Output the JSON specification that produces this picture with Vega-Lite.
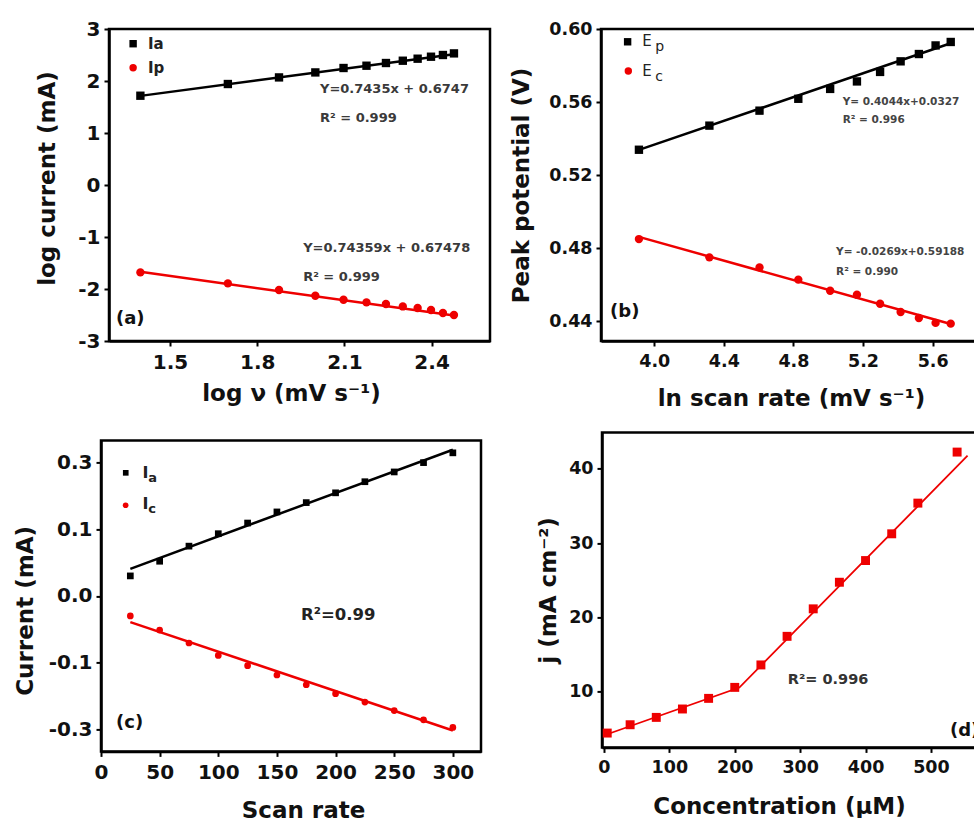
{
  "$schema": "https://vega.github.io/schema/vega-lite/v6.json",
  "background": "white",
  "autosize": {"type": "pad"},
  "padding": {"left": 13, "top": 17, "right": 0, "bottom": 0},
  "config": {
    "font": "DejaVu Sans",
    "view": {"stroke": "black", "strokeWidth": 2.5},
    "axis": {"grid": false, "domainColor": "black", "domainWidth": 2.5, "tickColor": "black", "tickWidth": 2, "tickSize": 5, "labelFont": "DejaVu Sans", "labelFontWeight": "bold", "labelColor": "#111111", "titleFont": "DejaVu Sans", "titleFontWeight": "bold", "titleColor": "#111111", "titleFontSize": 23, "labelFlush": false, "labelOverlap": false},
    "axisX": {"labelPadding": 6, "minExtent": 30, "maxExtent": 30},
    "axisY": {"labelPadding": 4, "minExtent": 40, "maxExtent": 40}
  },
  "datasets": {
    "a_pts": [
      {"s": "Ia", "x": 1.398, "y": 1.717}, {"s": "Ia", "x": 1.699, "y": 1.942}, {"s": "Ia", "x": 1.875, "y": 2.069}, {"s": "Ia", "x": 2.0, "y": 2.165}, {"s": "Ia", "x": 2.097, "y": 2.25}, {"s": "Ia", "x": 2.176, "y": 2.294}, {"s": "Ia", "x": 2.243, "y": 2.346}, {"s": "Ia", "x": 2.301, "y": 2.39}, {"s": "Ia", "x": 2.352, "y": 2.429}, {"s": "Ia", "x": 2.398, "y": 2.467}, {"s": "Ia", "x": 2.439, "y": 2.5}, {"s": "Ia", "x": 2.477, "y": 2.531},
      {"s": "Ip", "x": 1.398, "y": -1.681}, {"s": "Ip", "x": 1.699, "y": -1.892}, {"s": "Ip", "x": 1.875, "y": -2.019}, {"s": "Ip", "x": 2.0, "y": -2.129}, {"s": "Ip", "x": 2.097, "y": -2.206}, {"s": "Ip", "x": 2.176, "y": -2.258}, {"s": "Ip", "x": 2.243, "y": -2.288}, {"s": "Ip", "x": 2.301, "y": -2.335}, {"s": "Ip", "x": 2.352, "y": -2.365}, {"s": "Ip", "x": 2.398, "y": -2.404}, {"s": "Ip", "x": 2.439, "y": -2.462}, {"s": "Ip", "x": 2.477, "y": -2.5}
    ],
    "a_fit": [
      {"s": "Ia", "x": 1.398, "y": 1.714}, {"s": "Ia", "x": 2.477, "y": 2.516},
      {"s": "Ip", "x": 1.398, "y": -1.67}, {"s": "Ip", "x": 2.477, "y": -2.51}
    ],
    "b_pts": [
      {"s": "Ep", "x": 3.912, "y": 0.5339}, {"s": "Ep", "x": 4.317, "y": 0.5471}, {"s": "Ep", "x": 4.605, "y": 0.5553}, {"s": "Ep", "x": 4.828, "y": 0.5618}, {"s": "Ep", "x": 5.011, "y": 0.5672}, {"s": "Ep", "x": 5.165, "y": 0.5713}, {"s": "Ep", "x": 5.298, "y": 0.5765}, {"s": "Ep", "x": 5.416, "y": 0.5823}, {"s": "Ep", "x": 5.521, "y": 0.5863}, {"s": "Ep", "x": 5.617, "y": 0.591}, {"s": "Ep", "x": 5.704, "y": 0.5929},
      {"s": "Ec", "x": 3.912, "y": 0.485}, {"s": "Ec", "x": 4.317, "y": 0.475}, {"s": "Ec", "x": 4.605, "y": 0.4695}, {"s": "Ec", "x": 4.828, "y": 0.4628}, {"s": "Ec", "x": 5.011, "y": 0.4567}, {"s": "Ec", "x": 5.165, "y": 0.4545}, {"s": "Ec", "x": 5.298, "y": 0.4496}, {"s": "Ec", "x": 5.416, "y": 0.4451}, {"s": "Ec", "x": 5.521, "y": 0.4418}, {"s": "Ec", "x": 5.617, "y": 0.4391}, {"s": "Ec", "x": 5.704, "y": 0.4387}
    ],
    "b_fit": [
      {"s": "Ep", "x": 3.912, "y": 0.5338}, {"s": "Ep", "x": 5.704, "y": 0.5922},
      {"s": "Ec", "x": 3.912, "y": 0.4862}, {"s": "Ec", "x": 5.704, "y": 0.4385}
    ],
    "c_pts": [
      {"s": "Ia", "x": 25, "y": 0.045}, {"s": "Ia", "x": 50, "y": 0.078}, {"s": "Ia", "x": 75, "y": 0.112}, {"s": "Ia", "x": 100, "y": 0.14}, {"s": "Ia", "x": 125, "y": 0.164}, {"s": "Ia", "x": 150, "y": 0.189}, {"s": "Ia", "x": 175, "y": 0.21}, {"s": "Ia", "x": 200, "y": 0.232}, {"s": "Ia", "x": 225, "y": 0.257}, {"s": "Ia", "x": 250, "y": 0.279}, {"s": "Ia", "x": 275, "y": 0.3}, {"s": "Ia", "x": 300, "y": 0.322},
      {"s": "Ic", "x": 25, "y": -0.045}, {"s": "Ic", "x": 50, "y": -0.077}, {"s": "Ic", "x": 75, "y": -0.106}, {"s": "Ic", "x": 100, "y": -0.134}, {"s": "Ic", "x": 125, "y": -0.157}, {"s": "Ic", "x": 150, "y": -0.178}, {"s": "Ic", "x": 175, "y": -0.2}, {"s": "Ic", "x": 200, "y": -0.22}, {"s": "Ic", "x": 225, "y": -0.239}, {"s": "Ic", "x": 250, "y": -0.258}, {"s": "Ic", "x": 275, "y": -0.279}, {"s": "Ic", "x": 300, "y": -0.296}
    ],
    "c_fit": [
      {"s": "Ia", "x": 25, "y": 0.061}, {"s": "Ia", "x": 300, "y": 0.329},
      {"s": "Ic", "x": 25, "y": -0.059}, {"s": "Ic", "x": 300, "y": -0.303}
    ],
    "d_pts": [
      {"x": 5, "y": 4.43}, {"x": 40, "y": 5.55}, {"x": 80, "y": 6.54}, {"x": 120, "y": 7.67}, {"x": 160, "y": 9.1}, {"x": 200, "y": 10.58}, {"x": 240, "y": 13.6}, {"x": 280, "y": 17.45}, {"x": 320, "y": 21.15}, {"x": 360, "y": 24.73}, {"x": 400, "y": 27.65}, {"x": 440, "y": 31.25}, {"x": 480, "y": 35.38}, {"x": 540, "y": 42.25}
    ],
    "d_fit": [
      {"x": 5, "y": 4.27}, {"x": 207, "y": 10.55}, {"x": 556, "y": 41.76}
    ]
  },
  "bounds": "flush",
  "spacing": 403.4,
  "vconcat": [
    {
      "bounds": "flush",
      "spacing": 0,
      "hconcat": [
        {"width": 8, "height": 10, "view": {"stroke": null}, "data": {"values": [{"v": 0}]}, "mark": {"type": "point", "opacity": 0}, "encoding": {}},
        {
          "width": 381, "height": 312,
          "encoding": {
            "x": {"field": "x", "type": "quantitative", "scale": {"domain": [1.29, 2.601], "nice": false, "zero": false}, "axis": {"values": [1.5, 1.8, 2.1, 2.4], "format": ".1f", "title": "log ν (mV s⁻¹)", "titlePadding": 11.5, "titleX": 182, "labelFontSize": 20}},
            "y": {"field": "y", "type": "quantitative", "scale": {"domain": [-3, 3], "nice": false, "zero": false}, "axis": {"values": [-3, -2, -1, 0, 1, 2, 3], "format": "d", "labelExpr": "replace(datum.label, '−', '-')", "title": "log current (mA)", "titlePadding": 10, "titleY": 149, "labelFontSize": 20}}
          },
          "layer": [
            {"data": {"name": "a_fit"}, "mark": {"type": "line", "strokeWidth": 2.5}, "encoding": {"color": {"field": "s", "type": "nominal", "scale": {"domain": ["Ia", "Ip", "Ep", "Ec", "Ic"], "range": ["black", "#ee0000", "black", "#ee0000", "#ee0000"]}, "legend": null}}},
            {"data": {"name": "a_pts"}, "mark": {"type": "point", "filled": true, "opacity": 1, "size": 70}, "encoding": {"color": {"field": "s", "type": "nominal", "legend": null}, "shape": {"field": "s", "type": "nominal", "scale": {"domain": ["Ia", "Ip", "Ep", "Ec", "Ic"], "range": ["square", "circle", "square", "circle", "circle"]}, "legend": null}}},
            {"data": {"values": [{"s": "Ia", "x": 1.373, "y": 2.717}, {"s": "Ip", "x": 1.373, "y": 2.256}]}, "mark": {"type": "point", "filled": true, "opacity": 1, "size": 55}, "encoding": {"color": {"field": "s", "type": "nominal", "legend": null}, "shape": {"field": "s", "type": "nominal", "legend": null}}},
            {"data": {"values": [{"t": "Ia", "x": 1.424, "y": 2.717}, {"t": "Ip", "x": 1.424, "y": 2.256}]}, "mark": {"type": "text", "align": "left", "baseline": "middle", "fontSize": 15, "fontWeight": "bold", "color": "#222222"}, "encoding": {"text": {"field": "t"}}},
            {"data": {"values": [{"t": "Y=0.7435x + 0.6747", "x": 2.016, "y": 1.852}, {"t": "R² = 0.999", "x": 2.016, "y": 1.294}, {"t": "Y=0.74359x + 0.67478", "x": 1.958, "y": -1.206}, {"t": "R² = 0.999", "x": 1.958, "y": -1.763}]}, "mark": {"type": "text", "align": "left", "baseline": "middle", "fontSize": 13, "fontWeight": "bold", "color": "#3a3a3a"}, "encoding": {"text": {"field": "t"}}},
            {"data": {"values": [{"t": "(a)", "x": 1.314, "y": -2.571}]}, "mark": {"type": "text", "align": "left", "baseline": "middle", "fontSize": 18, "fontWeight": "bold", "color": "#111111"}, "encoding": {"text": {"field": "t"}}}
          ]
        },
        {"width": 111, "height": 10, "view": {"stroke": null}, "data": {"values": [{"v": 0}]}, "mark": {"type": "point", "opacity": 0}, "encoding": {}},
        {
          "width": 380, "height": 312,
          "encoding": {
            "x": {"field": "x", "type": "quantitative", "scale": {"domain": [3.694, 5.878], "nice": false, "zero": false}, "axis": {"values": [4.0, 4.4, 4.8, 5.2, 5.6], "format": ".1f", "title": "ln scan rate (mV s⁻¹)", "titlePadding": 16.4, "labelFontSize": 17.5}},
            "y": {"field": "y", "type": "quantitative", "scale": {"domain": [0.4292, 0.6], "nice": false, "zero": false}, "axis": {"values": [0.44, 0.48, 0.52, 0.56, 0.6], "format": ".2f", "title": "Peak potential (V)", "titlePadding": 28, "labelFontSize": 17.5}}
          },
          "layer": [
            {"data": {"name": "b_fit"}, "mark": {"type": "line", "strokeWidth": 2.5}, "encoding": {"color": {"field": "s", "type": "nominal", "legend": null}}},
            {"data": {"name": "b_pts"}, "mark": {"type": "point", "filled": true, "opacity": 1, "size": 70}, "encoding": {"color": {"field": "s", "type": "nominal", "legend": null}, "shape": {"field": "s", "type": "nominal", "legend": null}}},
            {"data": {"values": [{"s": "Ep", "x": 3.847, "y": 0.593}, {"s": "Ec", "x": 3.851, "y": 0.577}]}, "mark": {"type": "point", "filled": true, "opacity": 1, "size": 55}, "encoding": {"color": {"field": "s", "type": "nominal", "legend": null}, "shape": {"field": "s", "type": "nominal", "legend": null}}},
            {"data": {"values": [{"t": "E", "x": 3.931, "y": 0.5934}, {"t": "E", "x": 3.931, "y": 0.577}]}, "mark": {"type": "text", "align": "left", "baseline": "middle", "fontSize": 15, "color": "#222222"}, "encoding": {"text": {"field": "t"}}},
            {"data": {"values": [{"t": "p", "x": 4.006, "y": 0.5902}, {"t": "c", "x": 4.006, "y": 0.5735}]}, "mark": {"type": "text", "align": "left", "baseline": "middle", "fontSize": 14, "color": "#222222"}, "encoding": {"text": {"field": "t"}}},
            {"data": {"values": [{"t": "Y= 0.4044x+0.0327", "x": 5.083, "y": 0.5603}, {"t": "R² = 0.996", "x": 5.083, "y": 0.5503}, {"t": "Y= -0.0269x+0.59188", "x": 5.045, "y": 0.4781}, {"t": "R² = 0.990", "x": 5.045, "y": 0.4672}]}, "mark": {"type": "text", "align": "left", "baseline": "middle", "fontSize": 10.5, "fontWeight": "bold", "color": "#444444"}, "encoding": {"text": {"field": "t"}}},
            {"data": {"values": [{"t": "(b)", "x": 3.746, "y": 0.4453}]}, "mark": {"type": "text", "align": "left", "baseline": "middle", "fontSize": 18, "fontWeight": "bold", "color": "#111111"}, "encoding": {"text": {"field": "t"}}}
          ]
        }
      ]
    },
    {
      "bounds": "flush",
      "spacing": 501,
      "hconcat": [
        {
          "bounds": "flush",
          "spacing": 0,
          "vconcat": [
            {"width": 1, "height": 8, "view": {"stroke": null}, "data": {"values": [{"v": 0}]}, "mark": {"type": "point", "opacity": 0}, "encoding": {}},
            {
              "width": 380, "height": 311,
              "encoding": {
                "x": {"field": "x", "type": "quantitative", "scale": {"domain": [0, 324], "nice": false, "zero": false}, "axis": {"values": [0, 50, 100, 150, 200, 250, 300], "title": "Scan rate", "titlePadding": 17.8, "titleX": 202, "labelFontSize": 20}},
                "y": {"field": "y", "type": "quantitative", "scale": {"domain": [-0.35, 0.35], "nice": false, "zero": false}, "axis": {"values": [-0.3, -0.15, 0, 0.15, 0.3], "labelExpr": "datum.value > 0.2 ? '0.3' : datum.value > 0.1 ? '0.1' : datum.value > -0.05 ? '0.0' : datum.value > -0.2 ? '-0.1' : '-0.3'", "title": "Current (mA)", "titlePadding": 23.5, "titleY": 170, "labelFontSize": 20}}
              },
              "layer": [
                {"data": {"name": "c_fit"}, "mark": {"type": "line", "strokeWidth": 2.5}, "encoding": {"color": {"field": "s", "type": "nominal", "legend": null}}},
                {"data": {"name": "c_pts"}, "mark": {"type": "point", "filled": true, "opacity": 1, "size": 45}, "encoding": {"color": {"field": "s", "type": "nominal", "legend": null}, "shape": {"field": "s", "type": "nominal", "legend": null}}},
                {"data": {"values": [{"s": "Ia", "x": 21.1, "y": 0.277}, {"s": "Ic", "x": 21.0, "y": 0.204}]}, "mark": {"type": "point", "filled": true, "opacity": 1, "size": 32}, "encoding": {"color": {"field": "s", "type": "nominal", "legend": null}, "shape": {"field": "s", "type": "nominal", "legend": null}}},
                {"data": {"values": [{"t": "I", "x": 35.3, "y": 0.2772}, {"t": "I", "x": 35.3, "y": 0.2075}]}, "mark": {"type": "text", "align": "left", "baseline": "middle", "fontSize": 16, "fontWeight": "bold", "color": "#222222"}, "encoding": {"text": {"field": "t"}}},
                {"data": {"values": [{"t": "a", "x": 40.2, "y": 0.265}, {"t": "c", "x": 40.2, "y": 0.1945}]}, "mark": {"type": "text", "align": "left", "baseline": "middle", "fontSize": 13, "fontWeight": "bold", "color": "#222222"}, "encoding": {"text": {"field": "t"}}},
                {"data": {"values": [{"t": "R²=0.99", "x": 170.5, "y": -0.044}]}, "mark": {"type": "text", "align": "left", "baseline": "middle", "fontSize": 16.5, "fontWeight": "bold", "color": "#222222"}, "encoding": {"text": {"field": "t"}}},
                {"data": {"values": [{"t": "(c)", "x": 12.8, "y": -0.286}]}, "mark": {"type": "text", "align": "left", "baseline": "middle", "fontSize": 18, "fontWeight": "bold", "color": "#111111"}, "encoding": {"text": {"field": "t"}}}
              ]
            }
          ]
        },
        {
          "width": 378, "height": 315,
          "encoding": {
            "x": {"field": "x", "type": "quantitative", "scale": {"domain": [-3, 575], "nice": false, "zero": false}, "axis": {"values": [0, 100, 200, 300, 400, 500], "title": "Concentration (µM)", "titlePadding": 17.8, "titleX": 177, "labelFontSize": 17.5}},
            "y": {"field": "y", "type": "quantitative", "scale": {"domain": [2.5, 44.9], "nice": false, "zero": false}, "axis": {"values": [10, 20, 30, 40], "title": "j (mA cm⁻²)", "titlePadding": 2, "labelFontSize": 17.5}}
          },
          "layer": [
            {"data": {"name": "d_fit"}, "mark": {"type": "line", "strokeWidth": 1.8, "color": "#ee0000"}, "encoding": {}},
            {"data": {"name": "d_pts"}, "mark": {"type": "point", "shape": "square", "filled": true, "opacity": 1, "size": 80, "color": "#ee0000"}, "encoding": {}},
            {"data": {"values": [{"t": "R²= 0.996", "x": 281, "y": 11.54}]}, "mark": {"type": "text", "align": "left", "baseline": "middle", "fontSize": 14.5, "fontWeight": "bold", "color": "#333333"}, "encoding": {"text": {"field": "t"}}},
            {"data": {"values": [{"t": "(d)", "x": 529, "y": 4.71}]}, "mark": {"type": "text", "align": "left", "baseline": "middle", "fontSize": 18, "fontWeight": "bold", "color": "#111111"}, "encoding": {"text": {"field": "t"}}}
          ]
        }
      ]
    }
  ]
}
